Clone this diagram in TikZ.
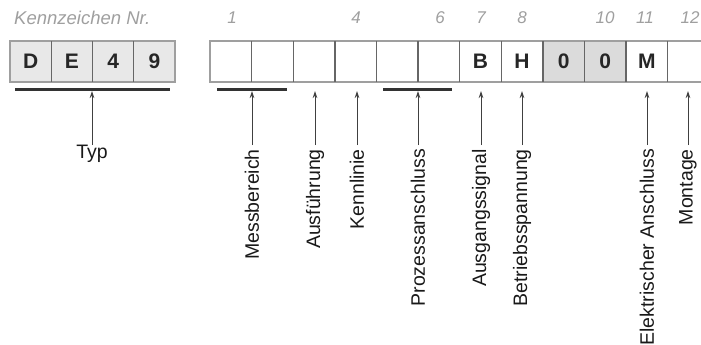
\documentclass[tikz,border=0pt]{standalone}
\usepackage{fontspec}
\setmainfont{Liberation Sans}
\usetikzlibrary{arrows.meta}
\begin{document}
\begin{tikzpicture}[x=1pt,y=-1pt,
  cell/.style={draw=gray!75,line width=1.3pt,minimum width=41.6pt,minimum height=41pt,inner sep=0pt,
    font=\fontsize{21}{21}\selectfont\bfseries,text=black!85},
  lcell/.style={cell,minimum width=41.25pt,fill=gray!18},
  gcell/.style={cell,fill=gray!28},
  num/.style={font=\fontsize{17}{17}\selectfont\itshape,text=gray!75,inner sep=0pt},
  lab/.style={rotate=90,anchor=east,font=\fontsize{19.5}{19.5}\selectfont,text=black!90,inner xsep=4pt,inner ysep=0pt},
  uline/.style={line width=3pt,black!80},
  arr/.style={-{Stealth[length=7pt,width=4.5pt]},line width=0.9pt,black!75}]
\useasboundingbox (0,0) rectangle (701,345);
\clip (0,0) rectangle (701,345);
% title
\node[font=\fontsize{18.5}{18.5}\selectfont\itshape,text=gray!75,anchor=west,inner sep=0pt] (title) at (14,18) {Kennzeichen Nr.};
% left group
\foreach \t [count=\i] in {D,E,4,9}{
  \node[lcell] (L\i) at ({10+41.25*(\i-0.5)},61.5) {\t};
}
\foreach \i in {1,2,3}{
  \draw[line width=1.4pt,black!60] ({10+41.25*\i},41.5) -- ({10+41.25*\i},81.5);
}
\draw[uline] (15,89) -- (170,89);
\coordinate (tT) at (92,91);
\node[font=\fontsize{19.5}{19.5}\selectfont,text=black!90,anchor=north,inner sep=0pt] (typ) at (92,145) {Typ};
\draw[arr] (typ.north) -- (tT);
% right group
\foreach \t/\s [count=\i] in {{}/cell,{}/cell,{}/cell,{}/cell,{}/cell,{}/cell,B/cell,H/cell,0/gcell,0/gcell,M/cell,{}/cell}{
  \node[\s] (R\i) at ({210+41.6*(\i-0.5)},61.5) {\t};
}
% darker dividers
\foreach \i in {1,...,11}{
  \draw[line width=1.4pt,black!60] ({210+41.6*\i},41.5) -- ({210+41.6*\i},81.5);
}
% numbers
\foreach \n/\x in {1/232,4/356,6/440,7/481,8/522,10/605,11/645,12/690}{
  \node[num] (n\n) at (\x,18) {\n};
}
% underlines
\draw[uline] (217,89) -- (287,89);
\draw[uline] (383,89) -- (452,89);
% labels and arrows
\foreach \x/\t [count=\k] in {252/Messbereich,315/Ausführung,357/Kennlinie,418/Prozessanschluss,481/Ausgangssignal,522/Betriebsspannung,647/Elektrischer Anschluss,688/Montage}{
  \coordinate (t\k) at (\x,91);
  \node[lab] (lab\k) at (\x,145) {\t};
  \draw[arr] (lab\k.east) -- (t\k);
}
\end{tikzpicture}
\end{document}
